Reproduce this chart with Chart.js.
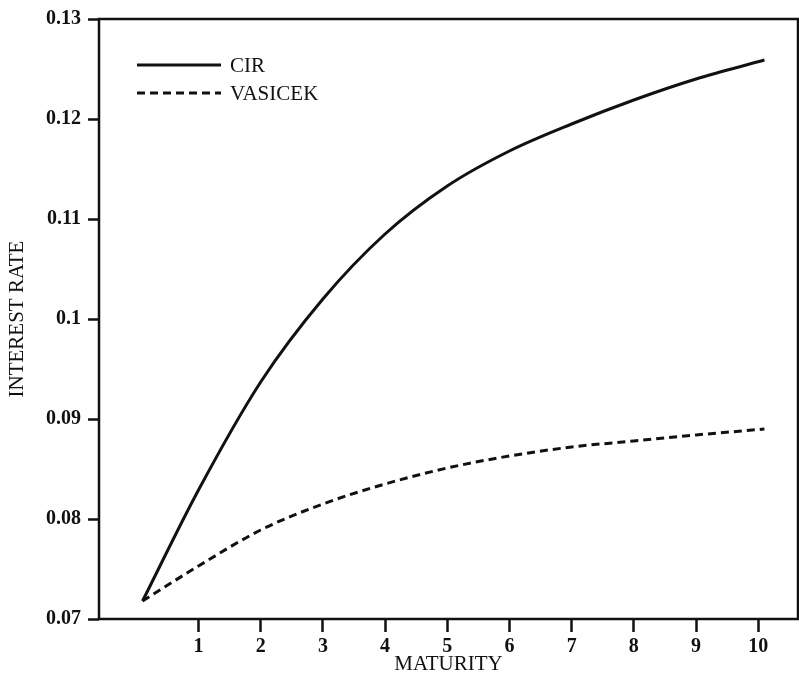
<!DOCTYPE html>
<html>
<head>
<meta charset="utf-8">
<script src="https://cdn.jsdelivr.net/npm/chart.js@4/dist/chart.umd.min.js"></script>
<style>
  html, body { margin: 0; padding: 0; background: #fff; }
  #wrap { width: 799px; height: 684px; }
</style>
</head>
<body>
<div id="wrap"><canvas id="rates" width="799" height="684"></canvas></div>
<script>
// term structure of interest rates, CIR vs Vasicek
const maturity = [0.1, 1, 2, 3, 4, 5, 6, 7, 8, 9, 10.1];
const cir      = [0.0718, 0.0829, 0.0937, 0.1020, 0.1085, 0.1133, 0.1168, 0.1195, 0.1219, 0.1240, 0.1259];
const vasicek  = [0.0718, 0.0753, 0.0789, 0.0815, 0.0835, 0.0851, 0.0863, 0.0872, 0.0878, 0.0884, 0.0890];

const maturityTicks = [1, 2, 3, 4, 5, 6, 7, 8, 9, 10];
const rateTicks  = [0.07, 0.08, 0.09, 0.10, 0.11, 0.12, 0.13];
const rateLabels = ['0.07', '0.08', '0.09', '0.1', '0.11', '0.12', '0.13'];

const serif = '"Liberation Serif", "DejaVu Serif", serif';

const toPoints = ys => maturity.map((m, i) => ({ x: m, y: ys[i] }));

// frame around the plot + legend in the upper left
const framePlugin = {
  id: 'frame',
  afterDraw(chart) {
    const { ctx, chartArea: a } = chart;
    ctx.save();
    ctx.strokeStyle = '#111';
    ctx.lineWidth = 2.5;
    ctx.strokeRect(a.left, a.top, a.right - a.left, a.bottom - a.top);

    ctx.font = '21px ' + serif;
    ctx.textBaseline = 'middle';
    ctx.fillStyle = '#111';
    chart.data.datasets.forEach((ds, i) => {
      const y = a.top + 46 + i * 28;
      ctx.beginPath();
      ctx.setLineDash(ds.borderDash || []);
      ctx.lineWidth = ds.borderWidth;
      ctx.moveTo(a.left + 38, y);
      ctx.lineTo(a.left + 122, y);
      ctx.stroke();
      ctx.setLineDash([]);
      ctx.fillText(ds.label, a.left + 131, y + 1);
    });
    ctx.restore();
  }
};

new Chart(document.getElementById('rates'), {
  type: 'line',
  data: {
    datasets: [
      {
        label: 'CIR',
        data: toPoints(cir),
        borderColor: '#111',
        borderWidth: 3,
        pointRadius: 0,
        cubicInterpolationMode: 'monotone'
      },
      {
        label: 'VASICEK',
        data: toPoints(vasicek),
        borderColor: '#111',
        borderWidth: 3,
        borderDash: [8, 5],
        pointRadius: 0,
        cubicInterpolationMode: 'monotone'
      }
    ]
  },
  options: {
    responsive: false,
    animation: false,
    layout: { padding: { top: 17, right: 1, left: 0, bottom: 0 } },
    plugins: {
      legend: { display: false },
      tooltip: { enabled: false }
    },
    scales: {
      x: {
        type: 'linear',
        min: -0.6,
        max: 10.64,
        afterBuildTicks: s => { s.ticks = maturityTicks.map(v => ({ value: v })); },
        afterFit: s => { s.height = 65; },
        border: { display: false },
        grid: {
          drawOnChartArea: false,
          drawTicks: true,
          tickLength: 13,
          tickWidth: 2.5,
          tickColor: '#111'
        },
        ticks: {
          color: '#111',
          padding: 3,
          maxRotation: 0,
          font: { family: serif, size: 20, weight: 'bold' },
          callback: v => String(v)
        },
        title: {
          display: true,
          text: 'MATURITY',
          color: '#111',
          padding: { top: 0, bottom: 7 },
          font: { family: serif, size: 21 }
        }
      },
      y: {
        type: 'linear',
        min: 0.07,
        max: 0.13,
        afterBuildTicks: s => { s.ticks = rateTicks.map(v => ({ value: v })); },
        afterFit: s => { s.width = 99; },
        border: { display: false },
        grid: {
          drawOnChartArea: false,
          drawTicks: true,
          tickLength: 11,
          tickWidth: 2.5,
          tickColor: '#111'
        },
        ticks: {
          color: '#111',
          padding: 7,
          font: { family: serif, size: 20, weight: 'bold' },
          callback: v => rateLabels[rateTicks.findIndex(t => Math.abs(t - v) < 1e-9)]
        },
        title: {
          display: true,
          text: 'INTEREST RATE',
          color: '#111',
          padding: { top: 5, bottom: 0 },
          font: { family: serif, size: 21 }
        }
      }
    }
  },
  plugins: [framePlugin]
});
</script>
</body>
</html>
